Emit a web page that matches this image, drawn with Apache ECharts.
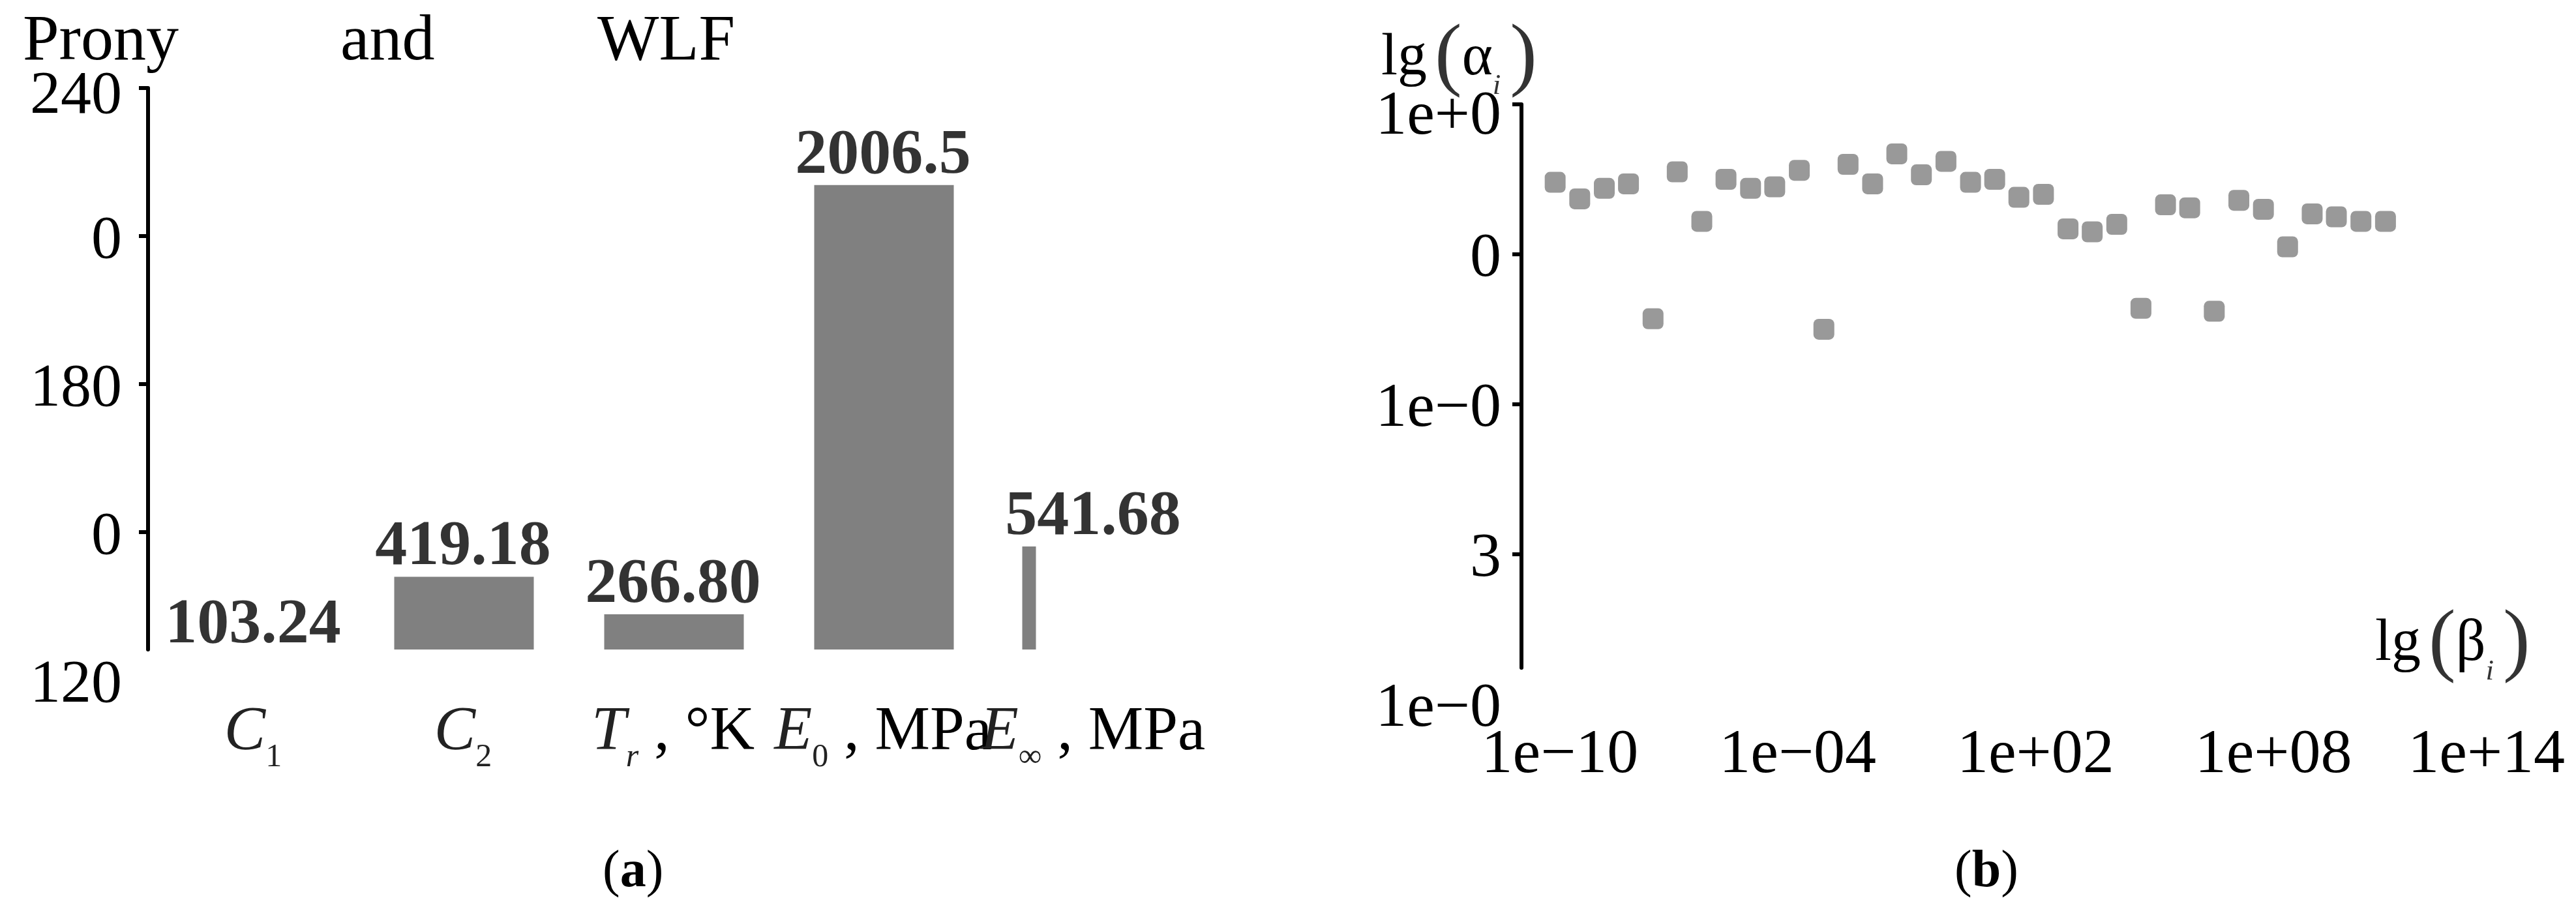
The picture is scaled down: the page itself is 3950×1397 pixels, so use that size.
<!DOCTYPE html>
<html><head><meta charset="utf-8">
<script src="https://cdn.jsdelivr.net/npm/echarts@6/dist/echarts.min.js"></script>
<style>html,body{margin:0;padding:0;background:#fff}#c{width:3950px;height:1397px}</style>
</head><body><div id="c"></div>
<script>
// ---- Panel (a) data ----
const categoriesA = ['C1', 'C2', 'Tr', 'E0', 'Einf'];
const categoryLabelsA = ['{it|C}{sub|1}', '{it|C}{sub|2}', '{it|T}{subi|r}{n| , °K}', '{it|E}{sub|0}{n| , MPa}', '{it|E}{sub|∞}{n| , MPa}'];
const valuesA = [103.24, 419.18, 266.80, 2006.5, 541.68];
const valueLabelsA = ['103.24', '419.18', '266.80', '2006.5', '541.68'];
const yTickValuesA = [0, 600, 1200, 1800, 2400];
const yTickLabelsA = ['120', '0', '180', '0', '240'];

// ---- Panel (b) data (lg values) ----
const lgBeta = [-10.12, -9.50, -8.88, -8.27, -7.65, -7.04, -6.42, -5.81, -5.19, -4.58, -3.96, -3.34, -2.73, -2.11, -1.50, -0.88, -0.26, 0.36, 0.97, 1.58, 2.20, 2.82, 3.43, 4.05, 4.66, 5.28, 5.89, 6.51, 7.13, 7.75, 8.36, 8.98, 9.59, 10.21, 10.83];
const lgAlpha = [-0.52, -0.63, -0.56, -0.53, -1.43, -0.45, -0.78, -0.50, -0.56, -0.55, -0.44, -1.50, -0.40, -0.53, -0.33, -0.47, -0.38, -0.52, -0.50, -0.62, -0.60, -0.83, -0.85, -0.80, -1.36, -0.67, -0.69, -1.38, -0.64, -0.70, -0.95, -0.73, -0.75, -0.78, -0.78];
const xTickValuesB = [-10, -4, 2, 8, 14];
const xTickLabelsB = ['1e−10', '1e−04', '1e+02', '1e+08', '1e+14'];
const yTickValuesB = [-4, -3, -2, -1, 0];
const yTickLabelsB = ['1e−0', '3', '1e−0', '0', '1e+0'];

const SERIF = "'Liberation Serif', 'Times New Roman', serif";
const GREY = '#808080';

const richCat = {
  it: {fontFamily: SERIF, fontStyle: 'italic', fontSize: 95, lineHeight: 125, color: '#222'},
  n: {fontFamily: SERIF, fontSize: 95, lineHeight: 125, color: '#000'},
  sub: {fontFamily: SERIF, fontSize: 50, lineHeight: 50, verticalAlign: 'bottom', color: '#222'},
  subi: {fontFamily: SERIF, fontStyle: 'italic', fontSize: 50, lineHeight: 50, verticalAlign: 'bottom', color: '#222'}
};
const richLg = {
  l: {fontFamily: SERIF, fontSize: 90, lineHeight: 130, color: '#000', padding: [0, 12, 0, 0]},
  p: {fontFamily: SERIF, fontSize: 125, lineHeight: 130, color: '#333'},
  g: {fontFamily: SERIF, fontSize: 90, lineHeight: 130, color: '#000'},
  s: {fontFamily: SERIF, fontStyle: 'italic', fontSize: 45, lineHeight: 50, verticalAlign: 'bottom', color: '#333', padding: [0, 14, 0, 0]}
};
const richCap = {
  n: {fontFamily: SERIF, fontSize: 80, lineHeight: 80, color: '#000'},
  b: {fontFamily: SERIF, fontSize: 80, lineHeight: 80, fontWeight: 'bold', color: '#000'}
};
const tickRich = (size, topShift) => ({
  d: {fontFamily: SERIF, fontSize: size, color: '#000', padding: [16, 0, 0, 0]},
  top: {fontFamily: SERIF, fontSize: size, color: '#000', padding: [topShift, 0, 0, 0]}
});
const plainTitle = (word, left, top) => ({
  text: '{t|' + word + '}', left, top, padding: 0,
  textStyle: {fontWeight: 'normal', rich: {t: {fontFamily: SERIF, fontSize: 100, lineHeight: 100, color: '#000'}}}
});
const richTitle = (text, left, top, rich) => ({
  text, left, top, padding: 0,
  textStyle: {fontWeight: 'normal', rich}
});

const noOuter = {containLabel: false, outerBoundsMode: 'none'};

const option = {
  animation: false,
  backgroundColor: '#fff',
  title: [
    plainTitle('Prony', 35, 15),
    plainTitle('and', 522, 15),
    plainTitle('WLF', 916, 15),
    richTitle('{l|lg}{p|(}{g|α}{s|i}{p|)}', 2118, 25, richLg),
    richTitle('{l|lg}{p|(}{g|β}{s|i}{p|)}', 3642, 923, richLg),
    richTitle('{n|(}{b|a}{n|)}', 924, 1298, richCap),
    richTitle('{n|(}{b|b}{n|)}', 2997, 1298, richCap)
  ],
  grid: [
    Object.assign({left: 227, top: 135, width: 1610, height: 908}, noOuter),
    Object.assign({left: 227, top: 135, width: 1610, height: 861}, noOuter),
    Object.assign({left: 2333, top: 160, width: 1334, height: 864}, noOuter),
    Object.assign({left: 2333, top: 160, width: 1578.5, height: 920}, noOuter)
  ],
  xAxis: [
    {gridIndex: 0, type: 'value', min: 0, max: 1, show: false},
    {gridIndex: 1, type: 'category', data: categoriesA,
      axisLine: {show: false}, axisTick: {show: false}, splitLine: {show: false},
      axisLabel: {interval: 0, margin: 66, formatter: (v, i) => categoryLabelsA[i], rich: richCat}},
    {gridIndex: 2, type: 'value', min: -10.97, max: 10.98, show: false},
    {gridIndex: 3, type: 'value', min: -10.97, max: 15,
      axisLine: {show: false, onZero: false}, axisTick: {show: false}, splitLine: {show: false},
      axisLabel: {customValues: xTickValuesB, margin: 31, fontFamily: SERIF, fontSize: 96, color: '#000',
        formatter: (v) => {
          const i = xTickValuesB.indexOf(v);
          if (i === xTickValuesB.length - 1) return '{s|' + xTickLabelsB[i] + '}';
          return xTickLabelsB[i];
        },
        rich: {s: {fontFamily: SERIF, fontSize: 96, color: '#000', padding: [0, 76, 0, 0]}}}}
  ],
  yAxis: [
    {gridIndex: 0, type: 'value', min: 0, max: 2400, interval: 600,
      axisLine: {show: false, onZero: false}, splitLine: {show: false},
      axisTick: {show: true, customValues: [600, 1200, 1800, 2400], length: 14, lineStyle: {color: '#000', width: 6}},
      axisLabel: {customValues: yTickValuesA, margin: 40, fontFamily: SERIF, fontSize: 94, color: '#000',
        formatter: (v) => {
          const i = yTickValuesA.indexOf(v);
          return (i === yTickValuesA.length - 1 ? '{top|' : '{d|') + yTickLabelsA[i] + '}';
        },
        rich: tickRich(94, 26)}},
    {gridIndex: 1, type: 'value', min: 124.2, max: 2400,
      axisLine: {show: true, onZero: false, lineStyle: {color: '#000', width: 6}},
      axisTick: {show: false}, axisLabel: {show: false}, splitLine: {show: false}},
    {gridIndex: 2, type: 'value', min: -3.757, max: 0,
      axisLine: {show: true, onZero: false, lineStyle: {color: '#000', width: 6}},
      axisTick: {show: false}, axisLabel: {show: false}, splitLine: {show: false}},
    {gridIndex: 3, type: 'value', min: -4, max: 0, interval: 1,
      axisLine: {show: false, onZero: false}, splitLine: {show: false},
      axisTick: {show: true, customValues: [-3, -2, -1, 0], length: 14, lineStyle: {color: '#000', width: 6}},
      axisLabel: {customValues: yTickValuesB, margin: 31, fontFamily: SERIF, fontSize: 96, color: '#000',
        formatter: (v) => {
          const i = yTickValuesB.indexOf(v);
          return (i === yTickValuesB.length - 1 ? '{top|' : '{d|') + yTickLabelsB[i] + '}';
        },
        rich: tickRich(96, 40)}}
  ],
  series: [
    {type: 'bar', xAxisIndex: 1, yAxisIndex: 1, barWidth: 21, barGap: '-85.7%', clip: true,
      itemStyle: {color: GREY}, data: valuesA.map((v, i) => i === 4 ? v : '-')},
    {type: 'bar', xAxisIndex: 1, yAxisIndex: 1, barWidth: 214, barGap: '-85.7%', clip: true,
      itemStyle: {color: GREY}, data: valuesA.map((v, i) => i < 4 ? v : '-')},
    {type: 'scatter', xAxisIndex: 1, yAxisIndex: 1, clip: false, silent: true, symbolSize: 1,
      itemStyle: {color: 'rgba(0,0,0,0)'}, data: valuesA,
      label: {show: true, position: 'top', distance: -5, fontFamily: SERIF, fontWeight: 'bold', fontSize: 98, color: '#000',
        formatter: (p) => valueLabelsA[p.dataIndex]}},
    {type: 'scatter', xAxisIndex: 2, yAxisIndex: 2, clip: true, symbol: 'roundRect', symbolSize: 32,
      itemStyle: {color: GREY}, data: lgBeta.map((x, i) => [x, lgAlpha[i]])}
  ]
};
const chart = echarts.init(document.getElementById('c'), null, {renderer: 'canvas'});
chart.setOption(option);
</script>
</body></html>
